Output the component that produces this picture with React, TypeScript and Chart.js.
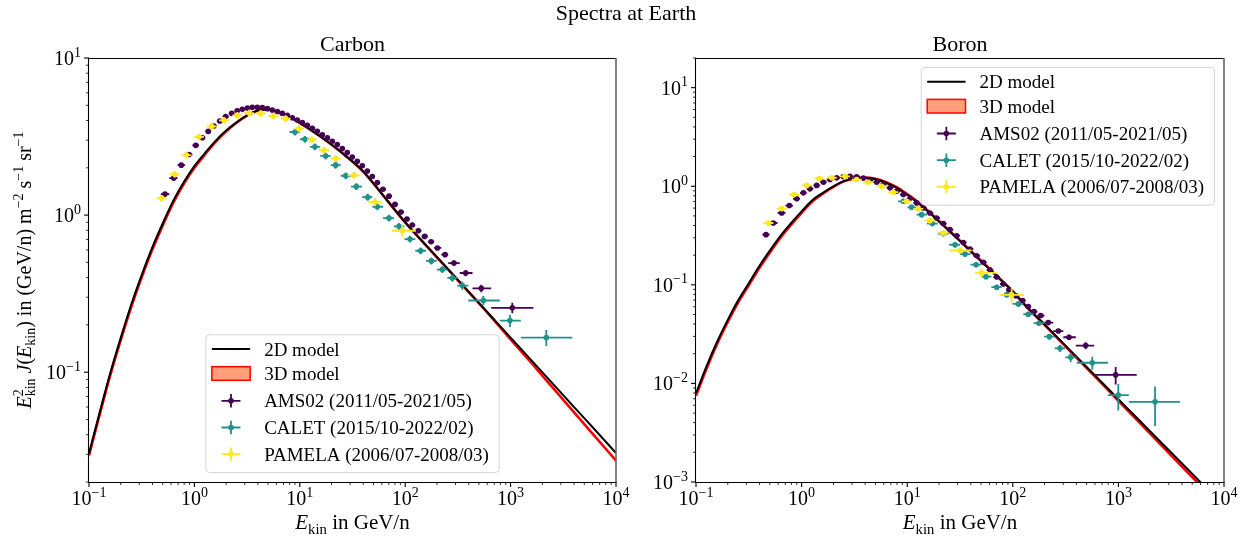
import React, { useEffect, useRef } from 'react';
import { Chart, registerables } from 'chart.js';
Chart.register(...registerables);

const FAMILY = '"Liberation Serif", "DejaVu Serif", serif';
const fnt = (size: number, italic = false) => `${italic ? 'italic ' : ''}${size}px ${FAMILY}`;

// ---------------- texts ----------------
const SUPTITLE = 'Spectra at Earth';
const TITLE_C = 'Carbon';
const TITLE_B = 'Boron';
const LBL_2D = '2D model';
const LBL_3D = '3D model';
const LBL_AMS = 'AMS02 (2011/05-2021/05)';
const LBL_CALET = 'CALET (2015/10-2022/02)';
const LBL_PAMELA = 'PAMELA (2006/07-2008/03)';

// ---------------- axis ranges ----------------
const C_X = [0.1, 10000];
const C_Y = [0.02, 10];
const B_X = [0.1, 10000];
const B_Y = [0.001, 20];

// ---------------- Carbon models ----------------
const cModelE = [0.1, 0.126, 0.158, 0.2, 0.251, 0.316, 0.398, 0.5, 0.631, 0.794, 1, 1.26, 1.58, 2, 2.51, 3.16, 3.98, 5.01, 6.31, 7.94, 10, 15.8, 25.1, 39.8, 63.1, 100, 158, 251, 398, 631, 1000, 1585, 2512, 3981, 6310, 10000];
const cModel2D = [0.0304, 0.0551, 0.097, 0.1654, 0.2679, 0.4153, 0.621, 0.884, 1.236, 1.624, 2.05, 2.483, 2.958, 3.45, 3.895, 4.309, 4.622, 4.697, 4.508, 4.221, 3.867, 3.151, 2.494, 1.903, 1.311, 0.9, 0.642, 0.458, 0.3268, 0.2328, 0.1661, 0.1186, 0.0845, 0.0602, 0.043, 0.0306];
const cModel3D = [0.0295, 0.0535, 0.094, 0.16, 0.259, 0.402, 0.601, 0.857, 1.2, 1.58, 2.0, 2.43, 2.91, 3.41, 3.87, 4.3, 4.62, 4.7, 4.51, 4.22, 3.865, 3.15, 2.49, 1.9, 1.31, 0.898, 0.64, 0.456, 0.325, 0.231, 0.162, 0.114, 0.0797, 0.0557, 0.039, 0.0274];

// ---------------- Carbon data ----------------
const cAmsE = [0.526, 0.637, 0.751, 0.889, 1.03, 1.19, 1.355, 1.53, 1.74, 1.98, 2.26, 2.55, 2.85, 3.18, 3.54, 3.95, 4.41, 4.92, 5.48, 6.12, 6.82, 7.61, 8.49, 9.47, 10.56, 11.78, 13.14, 14.66, 16.35, 18.24, 20.34, 22.69, 25.31, 28.23, 31.48, 35.12, 39.17, 43.7, 48.74, 54.37, 61.5, 70.2, 80.0, 91.2, 104, 116.7, 133, 153, 176, 202, 239, 290, 375, 527, 1038];
const cAmsF = [1.36, 1.72, 2.08, 2.43, 2.78, 3.11, 3.41, 3.69, 3.97, 4.24, 4.44, 4.62, 4.71, 4.8, 4.85, 4.85, 4.83, 4.76, 4.66, 4.57, 4.44, 4.31, 4.17, 4.03, 3.88, 3.73, 3.57, 3.42, 3.25, 3.1, 2.95, 2.81, 2.65, 2.5, 2.34, 2.2, 2.06, 1.91, 1.76, 1.61, 1.46, 1.32, 1.17, 1.045, 0.943, 0.864, 0.795, 0.732, 0.677, 0.618, 0.56, 0.495, 0.428, 0.342, 0.257];
const cAmsEdges = [0.48, 0.579, 0.692, 0.817, 0.957, 1.107, 1.27, 1.44, 1.632, 1.856, 2.115, 2.401, 2.696, 3.01, 3.355, 3.739, 4.174, 4.658, 5.193, 5.791, 6.461, 7.205, 8.038, 8.967, 10.0, 11.15, 12.44, 13.88, 15.48, 17.27, 19.26, 21.48, 23.96, 26.73, 29.81, 33.25, 37.09, 41.37, 46.15, 51.48, 57.82, 65.7, 74.9, 85.4, 97.4, 110.2, 124.6, 142.6, 164.1, 188.5, 220, 256, 329, 435, 655, 1644];
const cAmsRel = [0.02, 0.02, 0.02, 0.02, 0.02, 0.02, 0.02, 0.02, 0.02, 0.02, 0.02, 0.02, 0.02, 0.02, 0.02, 0.02, 0.02, 0.02, 0.02, 0.02, 0.02, 0.02, 0.02, 0.02, 0.02, 0.02, 0.02, 0.02, 0.02, 0.02, 0.02, 0.02, 0.02, 0.02, 0.02, 0.02, 0.02, 0.02, 0.02, 0.02, 0.02, 0.02, 0.02, 0.02, 0.02, 0.022, 0.024, 0.026, 0.028, 0.03, 0.034, 0.038, 0.045, 0.055, 0.076];

const cCalE = [9.0, 11.2, 13.9, 17.6, 21.9, 27.3, 34.4, 44.1, 54.3, 70.2, 87.3, 111, 140, 177, 225, 280, 348, 551, 986, 2182];
const cCalF = [3.38, 3.04, 2.72, 2.38, 2.08, 1.78, 1.52, 1.3, 1.13, 0.957, 0.848, 0.704, 0.593, 0.511, 0.45, 0.398, 0.356, 0.286, 0.213, 0.166];
const cCalEdges = [8.0, 10.04, 12.48, 15.64, 19.63, 24.45, 30.65, 38.95, 48.9, 61.7, 78.3, 98.4, 124.7, 157.4, 199.6, 251, 312, 397, 790, 1250, 3846];
const cCalRel = [0.05, 0.05, 0.05, 0.05, 0.05, 0.05, 0.05, 0.05, 0.05, 0.05, 0.05, 0.05, 0.05, 0.05, 0.05, 0.055, 0.06, 0.068, 0.09, 0.117];

const cPamE = [0.489, 0.65, 0.838, 1.105, 1.46, 1.91, 2.55, 3.3, 4.26, 5.61, 7.35, 9.83, 13.0, 17.0, 21.9, 32.7, 51.7, 93.9];
const cPamF = [1.28, 1.82, 2.41, 3.15, 3.67, 4.01, 4.31, 4.46, 4.44, 4.27, 4.11, 3.55, 3.02, 2.59, 2.29, 1.79, 1.21, 0.795];
const cPamLo = [0.439, 0.583, 0.752, 0.991, 1.31, 1.71, 2.29, 2.96, 3.82, 5.03, 6.59, 8.82, 11.7, 15.2, 19.6, 28.4, 44.5, 75.0];
const cPamHi = [0.545, 0.725, 0.934, 1.232, 1.63, 2.13, 2.84, 3.68, 4.75, 6.26, 8.2, 10.96, 14.5, 19.0, 24.4, 37.6, 59.8, 126];
const cPamRel = [0.05, 0.05, 0.05, 0.05, 0.05, 0.05, 0.05, 0.05, 0.05, 0.05, 0.05, 0.05, 0.05, 0.05, 0.05, 0.05, 0.06, 0.085];

// ---------------- Boron models ----------------
const bModelE = [0.1, 0.126, 0.158, 0.2, 0.251, 0.316, 0.398, 0.5, 0.631, 0.794, 1, 1.26, 1.58, 2, 2.51, 3.16, 3.98, 5.01, 6.31, 7.94, 10, 12.6, 15.8, 19.9, 25.1, 31.6, 39.8, 50.1, 63.1, 79.4, 100, 126, 158, 200, 251, 398, 631, 1000, 1585, 2512, 3981, 6310];
const bModel2D = [0.00796, 0.015, 0.0263, 0.0441, 0.0696, 0.104, 0.155, 0.222, 0.3135, 0.4214, 0.5556, 0.7205, 0.8547, 0.9977, 1.127, 1.198, 1.218, 1.178, 1.085, 0.963, 0.818, 0.6826, 0.5529, 0.4405, 0.3502, 0.278, 0.219, 0.1738, 0.1372, 0.1085, 0.0859, 0.065, 0.0507, 0.0396, 0.031, 0.01878, 0.0114, 0.00692, 0.0042, 0.00255, 0.00155, 0.00094];
const bModel3D = [0.0075, 0.0142, 0.025, 0.042, 0.0663, 0.099, 0.148, 0.212, 0.3, 0.405, 0.537, 0.7, 0.838, 0.985, 1.12, 1.2, 1.225, 1.19, 1.1, 0.98, 0.832, 0.694, 0.562, 0.447, 0.355, 0.281, 0.2215, 0.1755, 0.1385, 0.1093, 0.0862, 0.065, 0.0505, 0.0393, 0.0306, 0.0184, 0.0111, 0.00665, 0.004, 0.0024, 0.00144, 0.00087];

// ---------------- Boron data ----------------
const bAmsE = [0.46, 0.54, 0.648, 0.765, 0.9, 1.04, 1.2, 1.39, 1.61, 1.86, 2.15, 2.48, 2.87, 3.32, 3.84, 4.44, 5.14, 5.94, 6.87, 7.94, 9.19, 10.6, 12.3, 14.2, 16.4, 19.0, 22.0, 25.4, 29.4, 34.0, 39.3, 45.5, 52.6, 60.8, 70.4, 81.3, 92.0, 107, 124, 140, 159, 184, 217, 270, 341, 490, 942];
const bAmsF = [0.323, 0.424, 0.536, 0.637, 0.745, 0.857, 0.941, 1.02, 1.1, 1.17, 1.22, 1.25, 1.26, 1.25, 1.21, 1.15, 1.1, 1.04, 0.963, 0.889, 0.824, 0.745, 0.678, 0.603, 0.536, 0.477, 0.418, 0.363, 0.315, 0.269, 0.231, 0.197, 0.169, 0.142, 0.12, 0.102, 0.0889, 0.0773, 0.0693, 0.0603, 0.0536, 0.0488, 0.0414, 0.034, 0.0294, 0.0242, 0.0122];
const bAmsEdges = [0.425, 0.498, 0.5915, 0.704, 0.83, 0.967, 1.117, 1.292, 1.496, 1.73, 2.0, 2.309, 2.668, 3.087, 3.571, 4.129, 4.777, 5.526, 6.389, 7.386, 8.542, 9.87, 11.42, 13.22, 15.26, 17.65, 20.44, 23.64, 27.33, 31.62, 36.55, 42.29, 48.92, 56.55, 65.42, 75.65, 86.48, 99.2, 115.2, 131.8, 149.2, 171.0, 199.8, 242, 301, 395, 590, 1490];
const bAmsRel = [0.03, 0.03, 0.03, 0.03, 0.03, 0.03, 0.03, 0.03, 0.03, 0.03, 0.03, 0.03, 0.03, 0.03, 0.03, 0.03, 0.03, 0.03, 0.03, 0.03, 0.03, 0.03, 0.03, 0.03, 0.03, 0.03, 0.03, 0.03, 0.03, 0.03, 0.03, 0.03, 0.03, 0.03, 0.03, 0.03, 0.03, 0.03, 0.03, 0.03, 0.03, 0.03, 0.03, 0.04, 0.06, 0.08, 0.2];

const bCalE = [9.19, 11.0, 13.7, 17.3, 22.0, 28.4, 35.3, 44.9, 55.7, 70.5, 87.5, 113, 140, 177, 222, 280, 353, 566, 998, 2223];
const bCalF = [0.704, 0.611, 0.515, 0.418, 0.331, 0.255, 0.205, 0.16, 0.121, 0.0946, 0.0792, 0.0641, 0.0503, 0.0408, 0.0298, 0.0227, 0.0184, 0.0162, 0.0076, 0.0065];
const bCalEdges = [8.2, 10.05, 12.28, 15.4, 19.51, 25.0, 31.66, 39.81, 50.0, 62.7, 78.5, 99.4, 125.8, 157.4, 198.2, 249.3, 314, 403, 795, 1255, 3830];
const bCalRel = [0.06, 0.06, 0.06, 0.06, 0.06, 0.06, 0.06, 0.06, 0.06, 0.06, 0.06, 0.06, 0.06, 0.06, 0.065, 0.08, 0.11, 0.15, 0.3, 0.43];

const bPamE = [0.484, 0.648, 0.848, 1.12, 1.47, 1.93, 2.58, 3.32, 4.28, 5.73, 7.38, 9.89, 12.7, 16.4, 22.0, 31.6, 50.7, 97.6];
const bPamF = [0.424, 0.593, 0.824, 1.02, 1.2, 1.22, 1.26, 1.17, 1.1, 1.0, 0.869, 0.704, 0.589, 0.448, 0.336, 0.223, 0.132, 0.0791];
const bPamLo = [0.434, 0.581, 0.761, 1.0, 1.32, 1.73, 2.31, 2.98, 3.84, 5.14, 6.62, 8.87, 11.4, 14.7, 19.7, 24.9, 43.9, 75.6];
const bPamHi = [0.54, 0.722, 0.945, 1.25, 1.64, 2.15, 2.88, 3.7, 4.77, 6.39, 8.23, 11.0, 14.2, 18.3, 24.5, 40.7, 70.5, 128];
const bPamRel = [0.05, 0.05, 0.05, 0.05, 0.05, 0.05, 0.05, 0.05, 0.05, 0.05, 0.05, 0.05, 0.05, 0.05, 0.06, 0.07, 0.1, 0.17];

// ---------------- styles ----------------
const COL_AMS = '#440154';
const COL_CALET = '#21918c';
const COL_PAMELA = '#fde725';
const COL_2D = '#000000';
const COL_3D = '#ff0000';
const COL_3D_FILL = '#ffa07a';

const pts = (E: number[], F: number[]) => E.map((x, i) => ({ x, y: F[i] }));

function lineDs(label: string, E: number[], F: number[], color: string, width: number, order: number, kind: string, fillColor?: string) {
  return {
    label, data: pts(E, F), showLine: true, pointRadius: 0, pointHoverRadius: 0,
    borderColor: color, borderWidth: width, backgroundColor: fillColor || color,
    fill: false, cubicInterpolationMode: 'monotone', order, kind,
  };
}
function errDs(label: string, E: number[], F: number[], lo: number[], hi: number[], rel: number[], color: string, order: number) {
  return {
    label, data: pts(E, F), showLine: false, pointRadius: 2.8, pointHoverRadius: 2.8,
    pointBorderWidth: 0, pointBackgroundColor: color, pointBorderColor: color,
    borderColor: color, backgroundColor: color, order, kind: 'err', eLo: lo, eHi: hi, rel,
  };
}

type Seg = { t?: string; it?: boolean; sup?: string; sub?: string };
function drawRich(ctx: CanvasRenderingContext2D, segs: Seg[], x: number, y: number, size: number, rot: number, align = 'center') {
  const small = size * 0.7;
  const widths = segs.map((s) => {
    if (s.t !== undefined) { ctx.font = fnt(size, s.it); return ctx.measureText(s.t).width; }
    ctx.font = fnt(small);
    return Math.max(s.sup ? ctx.measureText(s.sup).width : 0, s.sub ? ctx.measureText(s.sub).width : 0);
  });
  const total = widths.reduce((a, b) => a + b, 0);
  ctx.save();
  ctx.translate(x, y);
  ctx.rotate(rot);
  ctx.fillStyle = '#000';
  ctx.textAlign = 'left';
  ctx.textBaseline = 'alphabetic';
  let cx = align === 'center' ? -total / 2 : align === 'right' ? -total : 0;
  segs.forEach((s, i) => {
    if (s.t !== undefined) { ctx.font = fnt(size, s.it); ctx.fillText(s.t, cx, 0); }
    else {
      ctx.font = fnt(small);
      if (s.sup) ctx.fillText(s.sup, cx, -0.42 * size);
      if (s.sub) ctx.fillText(s.sub, cx, 0.22 * size);
    }
    cx += widths[i];
  });
  ctx.restore();
}

const X_LABEL: Seg[] = [{ t: 'E', it: true }, { sub: 'kin' }, { t: ' in GeV/n' }];
const Y_LABEL: Seg[] = [
  { t: 'E', it: true }, { sup: '2', sub: 'kin' }, { t: ' ' }, { t: 'J', it: true }, { t: '(' }, { t: 'E', it: true }, { sub: 'kin' },
  { t: ') in (GeV/n) m' }, { sup: '−2' }, { t: ' s' }, { sup: '−1' }, { t: ' sr' }, { sup: '−1' },
];

const LEG = { w: 293.3, h: 137.7, rows: [14.3, 38.7, 66, 92.7, 119.3], hx0: 6, hx1: 44.3, textX: 58.3, font: 19, pad: 9.5 };

function drawLegend(ctx: CanvasRenderingContext2D, chart: any, loc: string) {
  const a = chart.chartArea;
  const x0 = loc === 'lower center' ? (a.left + a.right) / 2 - LEG.w / 2 : a.right - LEG.pad - LEG.w;
  const y0 = loc === 'lower center' ? a.bottom - LEG.pad - LEG.h : a.top + LEG.pad;
  ctx.save();
  ctx.beginPath();
  (ctx as any).roundRect(x0, y0, LEG.w, LEG.h, 4);
  ctx.fillStyle = 'rgba(255,255,255,0.8)';
  ctx.fill();
  ctx.strokeStyle = 'rgba(204,204,204,0.8)';
  ctx.lineWidth = 1;
  ctx.stroke();
  const dsets = chart.data.datasets as any[];
  dsets.forEach((d, i) => {
    const cy = y0 + LEG.rows[i];
    const hx0 = x0 + LEG.hx0, hx1 = x0 + LEG.hx1, hc = (hx0 + hx1) / 2;
    if (d.kind === 'line') {
      ctx.strokeStyle = d.borderColor; ctx.lineWidth = 2;
      ctx.beginPath(); ctx.moveTo(hx0, cy); ctx.lineTo(hx1, cy); ctx.stroke();
    } else if (d.kind === 'band') {
      ctx.fillStyle = d.backgroundColor;
      ctx.fillRect(hx0, cy - 6.8, hx1 - hx0, 13.6);
      ctx.strokeStyle = d.borderColor; ctx.lineWidth = 1.5;
      ctx.strokeRect(hx0, cy - 6.8, hx1 - hx0, 13.6);
    } else {
      ctx.strokeStyle = d.borderColor; ctx.lineWidth = 1.8;
      ctx.beginPath();
      ctx.moveTo(hc - 9.5, cy); ctx.lineTo(hc + 9.5, cy);
      ctx.moveTo(hc, cy - 6.7); ctx.lineTo(hc, cy + 6.7);
      ctx.stroke();
      ctx.fillStyle = d.borderColor;
      ctx.beginPath(); ctx.arc(hc, cy, 2.8, 0, Math.PI * 2); ctx.fill();
    }
    ctx.fillStyle = '#000';
    ctx.font = fnt(LEG.font);
    ctx.textAlign = 'left';
    ctx.textBaseline = 'alphabetic';
    ctx.fillText(d.label, x0 + LEG.textX, cy + 6.5);
  });
  ctx.restore();
}

function drawTicks(ctx: CanvasRenderingContext2D, scale: any, horizontal: boolean, a: any) {
  const min = scale.min, max = scale.max;
  ctx.save();
  ctx.strokeStyle = '#000';
  for (let d = Math.floor(Math.log10(min)); d <= Math.ceil(Math.log10(max)); d++) {
    for (let m = 1; m <= 9; m++) {
      const v = m * Math.pow(10, d);
      if (v < min * 0.9999 || v > max * 1.0001) continue;
      const major = m === 1;
      const len = major ? 5 : 3;
      ctx.lineWidth = major ? 1.1 : 0.8;
      const p = scale.getPixelForValue(v);
      ctx.beginPath();
      if (horizontal) { ctx.moveTo(p, a.bottom); ctx.lineTo(p, a.bottom + len); }
      else { ctx.moveTo(a.left, p); ctx.lineTo(a.left - len, p); }
      ctx.stroke();
    }
  }
  ctx.restore();
  // decade labels as 10^k
  const lo = Math.ceil(Math.log10(min) - 1e-9), hi = Math.floor(Math.log10(max) + 1e-9);
  for (let d = lo; d <= hi; d++) {
    const p = scale.getPixelForValue(Math.pow(10, d));
    const segs: Seg[] = [{ t: '10' }, { sup: d < 0 ? '−' + String(-d) : String(d) }];
    if (horizontal) drawRich(ctx, segs, p, a.bottom + 23, 20, 0, 'center');
    else drawRich(ctx, segs, a.left - 8, p + 7, 20, 0, 'right');
  }
}

interface Panel {
  id: string; title: string; xr: number[]; yr: number[];
  area: { left: number; right: number; top: number; bottom: number };
  legendLoc: string; yLabel: boolean; suptitle: boolean; datasets: any[];
}

function makeDecor(p: Panel) {
  return {
    id: 'decor_' + p.id,
    beforeDatasetDraw(chart: any, args: any) {
      const ds: any = chart.data.datasets[args.index];
      if (ds.kind !== 'err') return;
      const ctx = chart.ctx as CanvasRenderingContext2D;
      const a = chart.chartArea;
      const xs = chart.scales.x, ys = chart.scales.y;
      ctx.save();
      ctx.beginPath();
      ctx.rect(a.left, a.top, a.right - a.left, a.bottom - a.top);
      ctx.clip();
      ctx.strokeStyle = ds.borderColor;
      ctx.lineWidth = 1.8;
      ds.data.forEach((pt: any, i: number) => {
        const px = xs.getPixelForValue(pt.x), py = ys.getPixelForValue(pt.y);
        const x1 = xs.getPixelForValue(ds.eLo[i]), x2 = xs.getPixelForValue(ds.eHi[i]);
        const e = pt.y * ds.rel[i];
        const y1 = ys.getPixelForValue(pt.y + e), y2 = ys.getPixelForValue(Math.max(pt.y - e, 1e-12));
        ctx.beginPath();
        ctx.moveTo(x1, py); ctx.lineTo(x2, py);
        ctx.moveTo(px, y1); ctx.lineTo(px, y2);
        ctx.stroke();
      });
      ctx.restore();
    },
    afterDraw(chart: any) {
      const ctx = chart.ctx as CanvasRenderingContext2D;
      const a = chart.chartArea;
      ctx.save();
      ctx.strokeStyle = '#000';
      ctx.lineWidth = 1.1;
      ctx.beginPath();
      ctx.moveTo(a.left - 0.5, a.bottom + 0.5); ctx.lineTo(a.left - 0.5, a.top + 0.5); ctx.lineTo(a.right, a.top + 0.5);
      ctx.moveTo(a.left - 0.5, a.bottom + 0.5); ctx.lineTo(a.right, a.bottom + 0.5);
      ctx.stroke();
      ctx.strokeStyle = '#666';
      ctx.lineWidth = 1.6;
      ctx.beginPath(); ctx.moveTo(a.right, a.top); ctx.lineTo(a.right, a.bottom + 1); ctx.stroke();
      ctx.restore();
      drawTicks(ctx, chart.scales.x, true, a);
      drawTicks(ctx, chart.scales.y, false, a);
      ctx.save();
      ctx.fillStyle = '#000';
      ctx.textAlign = 'center';
      ctx.textBaseline = 'alphabetic';
      ctx.font = fnt(22);
      ctx.fillText(p.title, (a.left + a.right) / 2, 51);
      if (p.suptitle) ctx.fillText(SUPTITLE, 626, 20);
      ctx.restore();
      drawRich(ctx, X_LABEL, (a.left + a.right) / 2, 529, 21, 0);
      if (p.yLabel) drawRich(ctx, Y_LABEL, 31, (a.top + a.bottom) / 2, 20, -Math.PI / 2);
      drawLegend(ctx, chart, p.legendLoc);
    },
  };
}

const Y_AXIS_W = 60;
const X_AXIS_H = 40;
const FIG_W = 1252;
const FIG_H = 541;

function makeConfig(p: Panel): any {
  return {
    type: 'scatter',
    data: { datasets: p.datasets },
    options: {
      responsive: false,
      animation: false,
      devicePixelRatio: 1,
      events: [],
      layout: {
        padding: {
          left: p.area.left - Y_AXIS_W,
          right: FIG_W - p.area.right,
          top: p.area.top,
          bottom: FIG_H - p.area.bottom - X_AXIS_H,
        },
      },
      plugins: { legend: { display: false }, title: { display: false }, tooltip: { enabled: false } },
      scales: {
        x: {
          type: 'logarithmic', position: 'bottom', min: p.xr[0], max: p.xr[1],
          grid: { display: false, drawTicks: false }, border: { display: false },
          ticks: { display: false },
          afterFit: (s: any) => { s.height = X_AXIS_H; },
        },
        y: {
          type: 'logarithmic', position: 'left', min: p.yr[0], max: p.yr[1],
          grid: { display: false, drawTicks: false }, border: { display: false },
          ticks: { display: false },
          afterFit: (s: any) => { s.width = Y_AXIS_W; },
        },
      },
    },
    plugins: [makeDecor(p)],
  };
}

const carbonPanel: Panel = {
  id: 'c', title: TITLE_C, xr: C_X, yr: C_Y,
  area: { left: 89, right: 616, top: 58, bottom: 482 },
  legendLoc: 'lower center', yLabel: true, suptitle: true,
  datasets: [
    lineDs(LBL_2D, cModelE, cModel2D, COL_2D, 2, 3, 'line'),
    lineDs(LBL_3D, cModelE, cModel3D, COL_3D, 2.6, 4, 'band', COL_3D_FILL),
    errDs(LBL_AMS, cAmsE, cAmsF, cAmsEdges.slice(0, -1), cAmsEdges.slice(1), cAmsRel, COL_AMS, 2),
    errDs(LBL_CALET, cCalE, cCalF, cCalEdges.slice(0, -1), cCalEdges.slice(1), cCalRel, COL_CALET, 1),
    errDs(LBL_PAMELA, cPamE, cPamF, cPamLo, cPamHi, cPamRel, COL_PAMELA, 0),
  ],
};

const boronPanel: Panel = {
  id: 'b', title: TITLE_B, xr: B_X, yr: B_Y,
  area: { left: 696, right: 1224, top: 58, bottom: 482 },
  legendLoc: 'upper right', yLabel: false, suptitle: false,
  datasets: [
    lineDs(LBL_2D, bModelE, bModel2D, COL_2D, 2, 3, 'line'),
    lineDs(LBL_3D, bModelE, bModel3D, COL_3D, 2.6, 4, 'band', COL_3D_FILL),
    errDs(LBL_AMS, bAmsE, bAmsF, bAmsEdges.slice(0, -1), bAmsEdges.slice(1), bAmsRel, COL_AMS, 2),
    errDs(LBL_CALET, bCalE, bCalF, bCalEdges.slice(0, -1), bCalEdges.slice(1), bCalRel, COL_CALET, 1),
    errDs(LBL_PAMELA, bPamE, bPamF, bPamLo, bPamHi, bPamRel, COL_PAMELA, 0),
  ],
};

export default function App() {
  const leftRef = useRef<HTMLCanvasElement>(null);
  const rightRef = useRef<HTMLCanvasElement>(null);
  useEffect(() => {
    const c1 = new Chart(leftRef.current as HTMLCanvasElement, makeConfig(carbonPanel));
    const c2 = new Chart(rightRef.current as HTMLCanvasElement, makeConfig(boronPanel));
    return () => { c1.destroy(); c2.destroy(); };
  }, []);
  return (
    <div style={{ position: 'absolute', left: 0, top: 0, width: FIG_W, height: FIG_H, background: '#fff' }}>
      <canvas ref={leftRef} width={FIG_W} height={FIG_H} style={{ position: 'absolute', left: 0, top: 0 }} />
      <canvas ref={rightRef} width={FIG_W} height={FIG_H} style={{ position: 'absolute', left: 0, top: 0 }} />
    </div>
  );
}
